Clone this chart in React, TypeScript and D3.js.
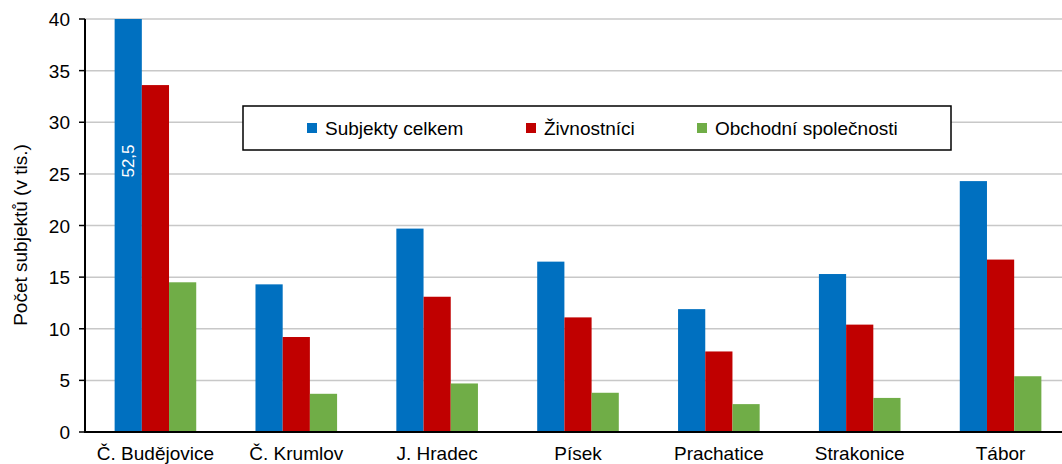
import React from "react";
import * as d3 from "d3";

const categories = ["Č. Budějovice", "Č. Krumlov", "J. Hradec", "Písek", "Prachatice", "Strakonice", "Tábor"];
const subjektyCelkem = [52.5, 14.3, 19.7, 16.5, 11.9, 15.3, 24.3];
const zivnostnici = [33.6, 9.2, 13.1, 11.1, 7.8, 10.4, 16.7];
const obchodniSpolecnosti = [14.5, 3.7, 4.7, 3.8, 2.7, 3.3, 5.4];
const yTicks = [0, 5, 10, 15, 20, 25, 30, 35, 40];

const series = [
  { name: "Subjekty celkem", values: subjektyCelkem, color: "#0070c0" },
  { name: "Živnostníci", values: zivnostnici, color: "#c00000" },
  { name: "Obchodní společnosti", values: obchodniSpolecnosti, color: "#70ad47" },
];

const font = "'Liberation Sans', Arial, sans-serif";

export default function App() {
  const W = 1062, H = 464;
  const left = 85, right = 1071, top = 19, bottom = 432;

  const x = d3.scaleBand<string>().domain(categories).range([left, right]);
  const y = d3.scaleLinear().domain([0, 40]).range([bottom, top]);
  const barW = 27.2;
  const groupW = barW * series.length;

  return (
    <svg width={W} height={H} style={{ position: "absolute", left: 0, top: 0, fontFamily: font }}>
      <defs>
        <clipPath id="plot">
          <rect x={left} y={top} width={right - left} height={bottom - top} />
        </clipPath>
      </defs>
      {yTicks.filter(t => t > 0).map(t => (
        <line key={t} x1={left} x2={right} y1={y(t)} y2={y(t)} stroke="#c8c8c8" strokeWidth={1.5} />
      ))}
      <g clipPath="url(#plot)">
        {series.map((s, si) =>
          s.values.map((v, i) => {
            const bx = x(categories[i])! + x.bandwidth() / 2 - groupW / 2 + si * barW;
            return (
              <rect key={`${si}-${i}`} x={bx} y={y(v)} width={barW} height={bottom - y(v)} fill={s.color} />
            );
          })
        )}
      </g>
      {(() => {
        const bx = x(categories[0])! + x.bandwidth() / 2 - groupW / 2 + barW / 2;
        return (
          <text transform={`translate(${bx + 6},161) rotate(-90)`} textAnchor="middle" fontSize={17} fill="#fff">
            {String(subjektyCelkem[0]).replace(".", ",")}
          </text>
        );
      })()}
      <line x1={left} x2={left} y1={top} y2={bottom + 1} stroke="#000" strokeWidth={2} />
      <line x1={left - 1} x2={right} y1={bottom} y2={bottom} stroke="#000" strokeWidth={2} />
      {yTicks.map(t => (
        <g key={t}>
          <line x1={left - 6} x2={left} y1={y(t)} y2={y(t)} stroke="#000" strokeWidth={1.5} />
          <text x={left - 15} y={y(t) + 7} textAnchor="end" fontSize={19} fill="#000">{t}</text>
        </g>
      ))}
      {categories.map(c => (
        <text key={c} x={x(c)! + x.bandwidth() / 2} y={460} textAnchor="middle" fontSize={19} fill="#000">{c}</text>
      ))}
      <text transform={`translate(27,235) rotate(-90)`} textAnchor="middle" fontSize={19} fill="#000">
        Počet subjektů (v tis.)
      </text>
      <g>
        <rect x={243} y={106} width={708} height={44} fill="#fff" stroke="#000" strokeWidth={1.5} />
        {series.map((s, i) => {
          const lx = [307, 526, 697][i];
          return (
            <g key={s.name}>
              <rect x={lx} y={123} width={10} height={10} fill={s.color} />
              <text x={lx + 18} y={135} fontSize={19} fill="#000">{s.name}</text>
            </g>
          );
        })}
      </g>
    </svg>
  );
}
